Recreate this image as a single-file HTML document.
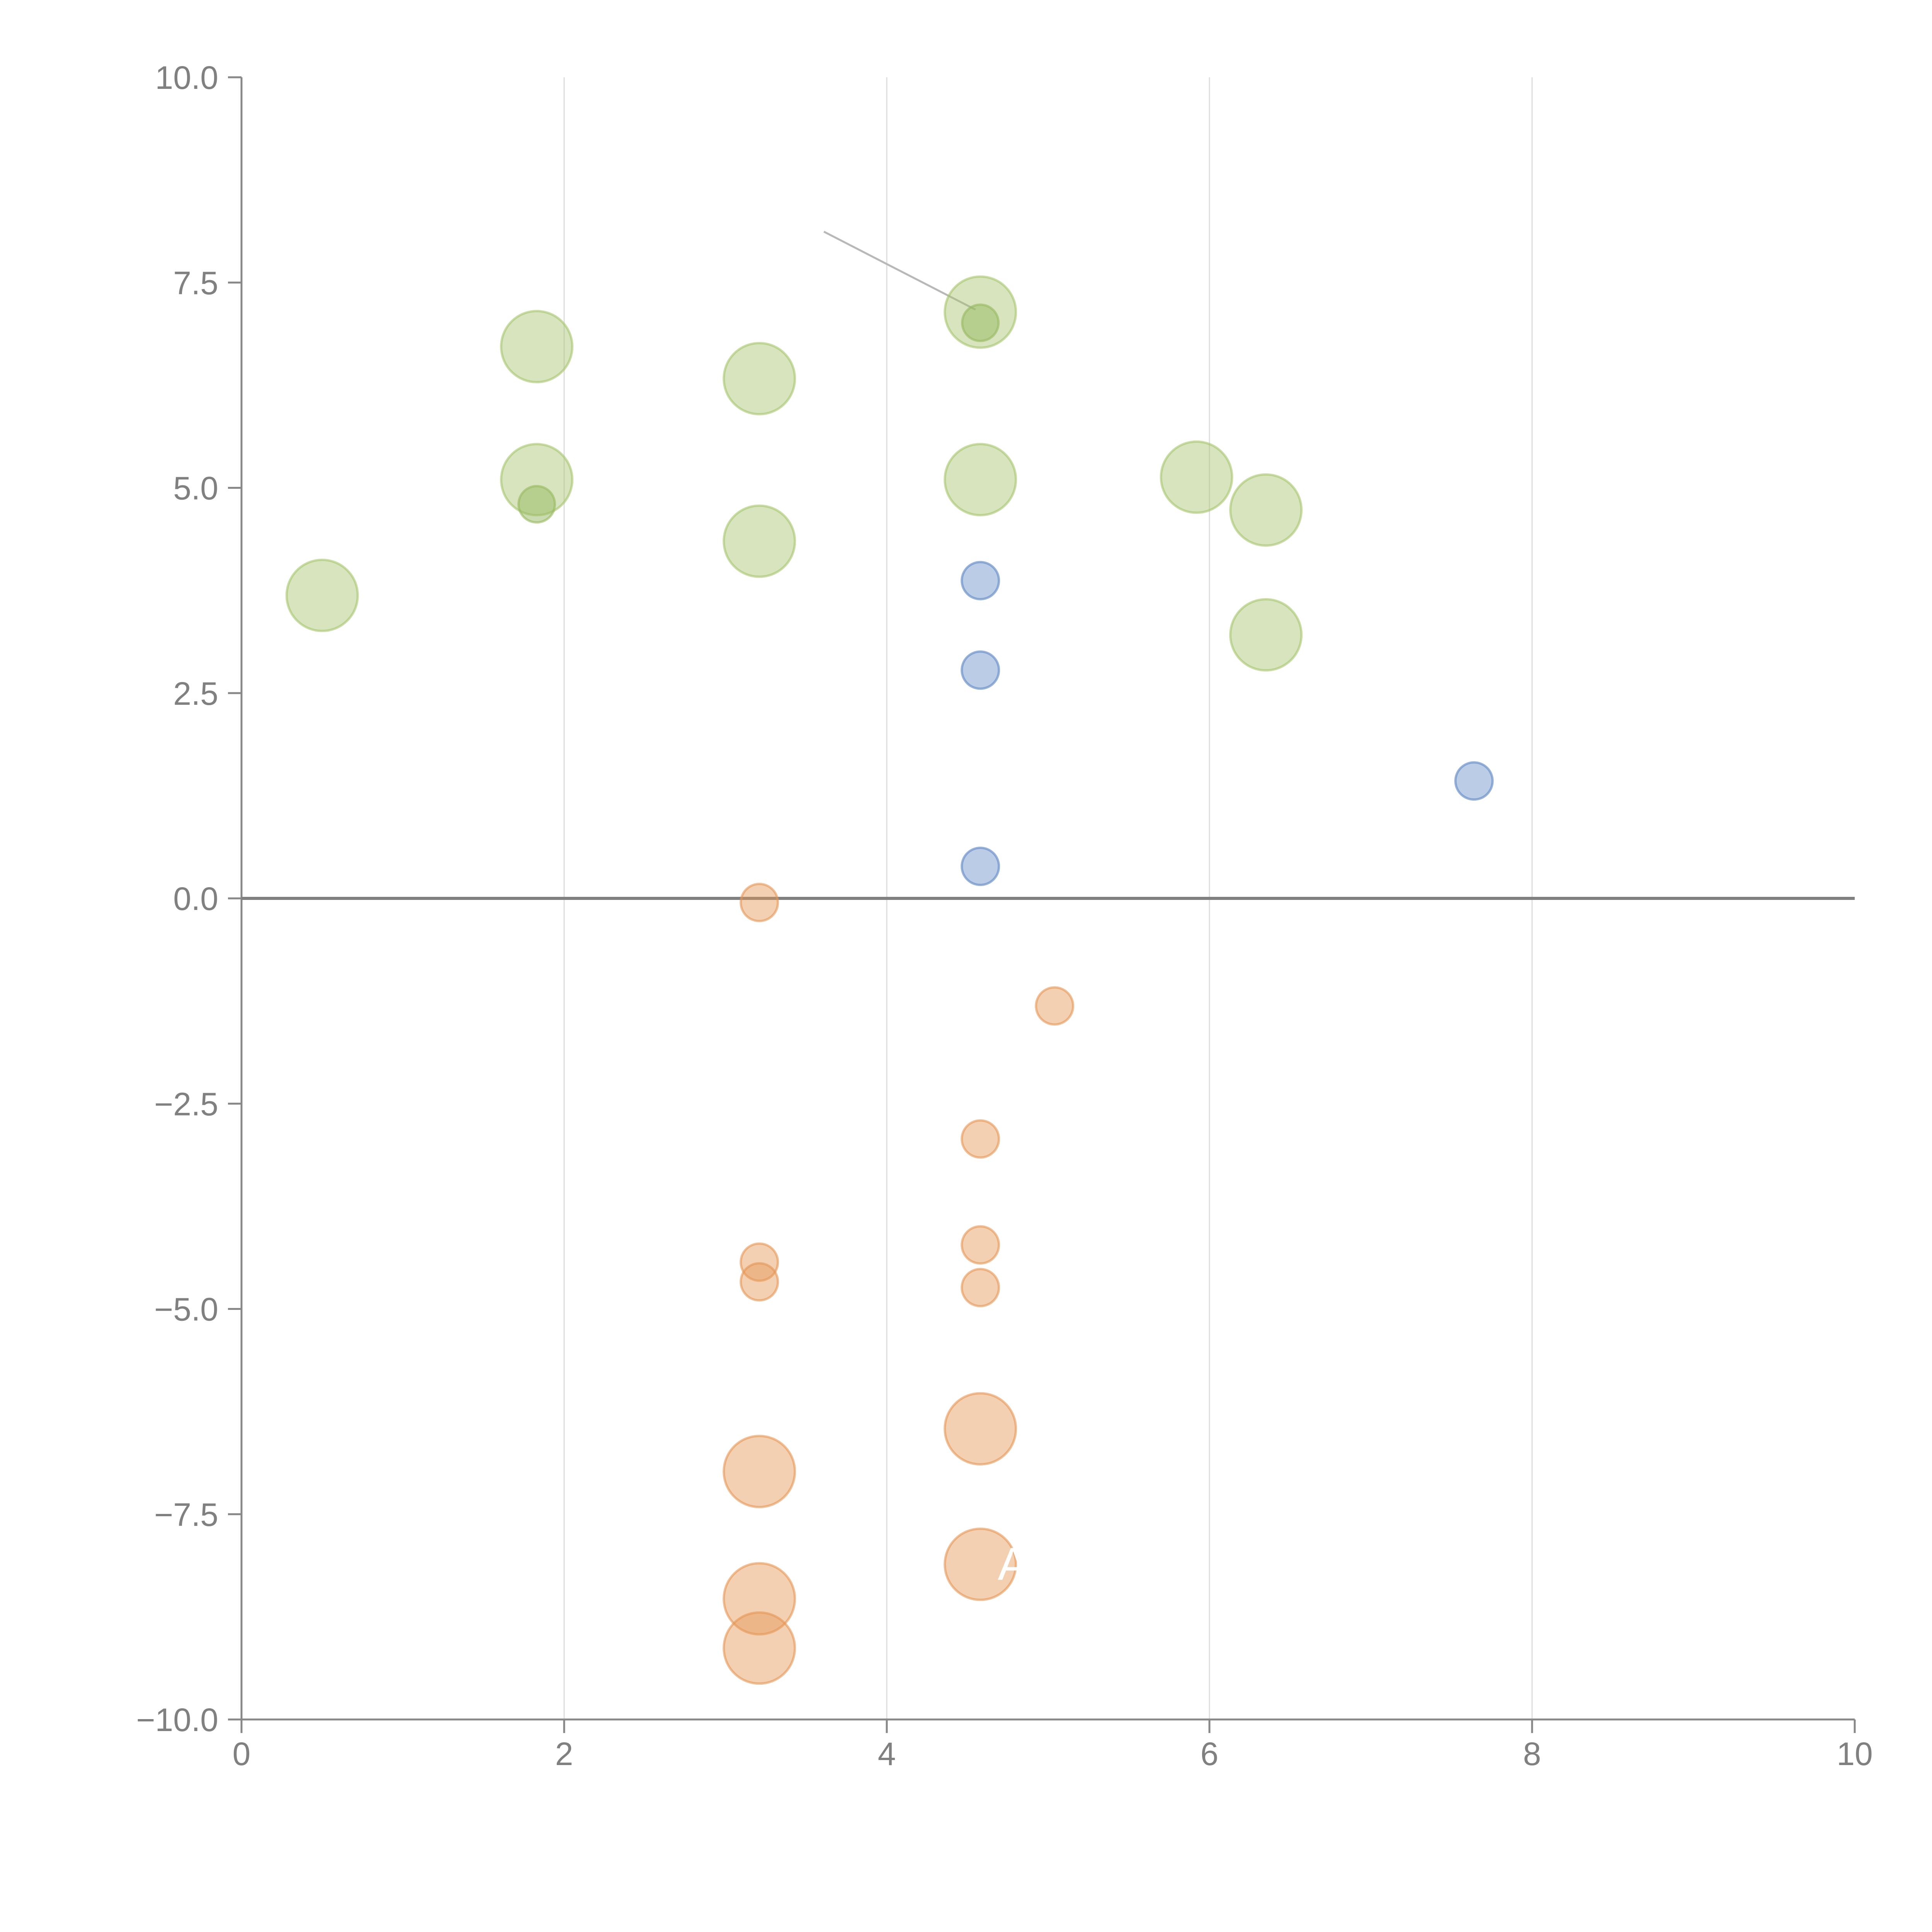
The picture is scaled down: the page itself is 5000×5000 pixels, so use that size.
<!DOCTYPE html>
<html><head><meta charset="utf-8"><style>
html,body{margin:0;padding:0;background:#fff;}
svg{display:block;}
text{font-family:"Liberation Sans",Arial,sans-serif;fill:#808080;}
</style></head>
<body>
<svg id="chart" width="5000" height="5000" viewBox="0 0 5000 5000" xmlns="http://www.w3.org/2000/svg">
<g id="grid"></g>
<g id="axes"></g>
<g id="marks"></g>
</svg>
<script>
const xTicks = [0, 2, 4, 6, 8, 10];
const xTickLabels = ["0", "2", "4", "6", "8", "10"];
const yTicks = [10, 7.5, 5, 2.5, 0, -2.5, -5, -7.5, -10];
const yTickLabels = ["10.0", "7.5", "5.0", "2.5", "0.0", "\u22122.5", "\u22125.0", "\u22127.5", "\u221210.0"];

const greenBigX = [1.83, 3.21, 4.58, 1.83, 4.58, 5.92, 6.35, 3.21, 0.50, 6.35];
const greenBigY = [6.72, 6.33, 7.14, 5.10, 5.10, 5.13, 4.73, 4.35, 3.69, 3.21];
const greenSmallX = [4.58, 1.83];
const greenSmallY = [7.01, 4.80];
const blueX = [4.58, 4.58, 7.64, 4.58];
const blueY = [3.87, 2.78, 1.43, 0.39];
const orangeSmallX = [3.21, 5.04, 4.58, 3.21, 3.21, 4.58, 4.58];
const orangeSmallY = [-0.05, -1.31, -2.93, -4.43, -4.67, -4.22, -4.74];
const orangeBigX = [4.58, 3.21, 4.58, 3.21, 3.21];
const orangeBigY = [-6.46, -6.98, -8.11, -8.53, -9.13];
const annotX = [3.61, 4.55];
const annotY = [8.12, 7.17];

const X0 = 625, X1 = 4800, Y0 = 200, Y1 = 4450;
const xs = v => X0 + (v - 0) / 10 * (X1 - X0);
const ys = v => Y1 - (v + 10) / 20 * (Y1 - Y0);
const NS = "http://www.w3.org/2000/svg";
function mk(tag, attrs, parent) {
  const e = document.createElementNS(NS, tag);
  for (const k in attrs) e.setAttribute(k, attrs[k]);
  parent.appendChild(e);
  return e;
}
const grid = document.getElementById('grid');
const axes = document.getElementById('axes');
const marks = document.getElementById('marks');

xTicks.forEach((t, i) => {
  if (t > 0 && t < 10) {
    const g = mk('line', {x1: xs(t), x2: xs(t), y1: Y0, y2: Y1, stroke: '#dcdcdc', 'stroke-width': 3}, grid);
    
    
  }
  const tk = mk('line', {x1: xs(t), x2: xs(t), y1: Y1, y2: Y1 + 35, stroke: '#888', 'stroke-width': 5}, axes);
  
  
  const tx = mk('text', {x: xs(t), y: Y1 + 118, 'text-anchor': 'middle', 'font-size': 84}, axes);
  tx.textContent = xTickLabels[i];
  
  
});
yTicks.forEach((t, i) => {
  const tk = mk('line', {x1: X0 - 35, x2: X0, y1: ys(t), y2: ys(t), stroke: '#888', 'stroke-width': 5}, axes);
  
  
  const tx = mk('text', {x: X0 - 60, y: ys(t) + 30, 'text-anchor': 'end', 'font-size': 84}, axes);
  tx.textContent = yTickLabels[i];
  
  
});
const xa = mk('line', {x1: X0, x2: X1, y1: Y1, y2: Y1, stroke: '#888', 'stroke-width': 5}, axes);


const ya = mk('line', {x1: X0, x2: X0, y1: Y0, y2: Y1, stroke: '#888', 'stroke-width': 5}, axes);


const zl = mk('line', {x1: X0, x2: X1, y1: ys(0), y2: ys(0), stroke: '#808080', 'stroke-width': 8}, axes);



const an = mk('line', {x1: xs(annotX[0]), y1: ys(annotY[0]), x2: xs(annotX[1]), y2: ys(annotY[1]), stroke: '#b8b8b8', 'stroke-width': 5}, marks);



function series(xsArr, ysArr, r, fill, stroke, name) {
  xsArr.forEach((x, i) => {
    const c = mk('circle', {cx: xs(x), cy: ys(ysArr[i]), r: r, fill: fill, stroke: stroke, 'stroke-width': 6}, marks);
    
    
  });
}
series(greenBigX, greenBigY, 92, 'rgba(166,196,110,0.45)', 'rgba(166,196,110,0.6)', 'green-bubble');
series(greenSmallX, greenSmallY, 47, 'rgba(150,185,95,0.5)', 'rgba(150,185,95,0.6)', 'green-small-bubble');
series(blueX, blueY, 48, 'rgba(120,155,205,0.5)', 'rgba(110,145,200,0.7)', 'blue-bubble');
series(orangeSmallX, orangeSmallY, 48, 'rgba(228,150,85,0.45)', 'rgba(228,150,85,0.6)', 'orange-small-bubble');
series(orangeBigX, orangeBigY, 92, 'rgba(228,150,85,0.45)', 'rgba(228,150,85,0.6)', 'orange-bubble');

const lbl = mk('text', {x: xs(4.58) + 45, y: ys(-8.11) + 40, 'font-size': 120, style: 'fill:#fff'}, marks);
lbl.textContent = 'A';


</script>
</body></html>
